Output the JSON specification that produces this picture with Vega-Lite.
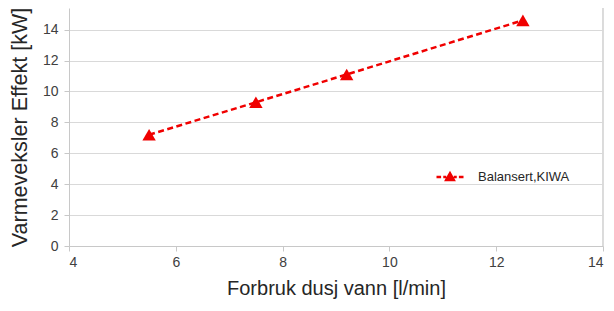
{
  "$schema": "https://vega.github.io/schema/vega-lite/v6.json",
  "width": 534,
  "height": 238,
  "autosize": {"type": "none"},
  "padding": {"left": 69, "top": 8, "right": 11, "bottom": 65},
  "background": "white",
  "config": {
    "view": {"stroke": null},
    "font": "Liberation Sans",
    "axis": {
      "labelFont": "Liberation Sans",
      "titleFont": "Liberation Sans",
      "labelFontSize": 14,
      "labelColor": "#404040",
      "labelOverlap": false,
      "labelBound": false,
      "titleFontSize": 20,
      "titleFontWeight": "normal",
      "titleColor": "#262626",
      "domainColor": "#c8c8c8",
      "tickColor": "#c8c8c8",
      "gridColor": "#d9d9d9",
      "tickSize": 5
    }
  },
  "data": {
    "values": [
      {"flow": 5.5, "power": 7.2, "series": "Balansert,KIWA"},
      {"flow": 7.5, "power": 9.3, "series": "Balansert,KIWA"},
      {"flow": 9.2, "power": 11.1, "series": "Balansert,KIWA"},
      {"flow": 12.5, "power": 14.6, "series": "Balansert,KIWA"}
    ]
  },
  "encoding": {
    "x": {
      "field": "flow", "type": "quantitative",
      "scale": {"domain": [4, 14], "nice": false, "zero": false},
      "axis": {"values": [4, 6, 8, 10, 12, 14], "tickCount": 6, "grid": false, "title": "Forbruk dusj vann [l/min]", "titlePadding": 9, "labelPadding": 4}
    },
    "y": {
      "field": "power", "type": "quantitative",
      "scale": {"domain": [0, 15.4], "nice": false},
      "axis": {"values": [0, 2, 4, 6, 8, 10, 12, 14], "tickCount": 8, "grid": true, "title": "Varmeveksler Effekt [kW]", "titleFontSize": 21.5, "titlePadding": 11, "labelPadding": 6}
    }
  },
  "layer": [
    {
      "mark": {"type": "rule", "color": "#d9d9d9", "strokeWidth": 1},
      "encoding": {"x": {"datum": 14}, "y": {"value": 0}, "y2": {"value": 238}}
    },
    {
      "mark": {"type": "line", "strokeDash": [6, 3.5], "strokeWidth": 2.5, "color": "#f00000"}
    },
    {
      "mark": {"type": "point", "shape": "triangle-up", "filled": true, "size": 180, "opacity": 1, "color": "#f00000"},
      "encoding": {
        "color": {
          "field": "series", "type": "nominal",
          "scale": {"range": ["#f00000"]},
          "legend": {
            "title": null,
            "orient": "none",
            "legendX": 366,
            "legendY": 154,
            "symbolType": "M-1,0H-0.66M-0.5,0H-0.28M-0.28,0.22L0,-0.28L0.28,0.22ZM0.28,0H0.5M0.66,0H1",
            "symbolSize": 729,
            "symbolStrokeWidth": 2.5,
            "symbolStrokeColor": "#f00000",
            "symbolFillColor": "#f00000",
            "labelFont": "Liberation Sans",
            "labelFontSize": 13,
            "labelColor": "#262626",
            "labelOffset": 13
          }
        }
      }
    }
  ]
}
